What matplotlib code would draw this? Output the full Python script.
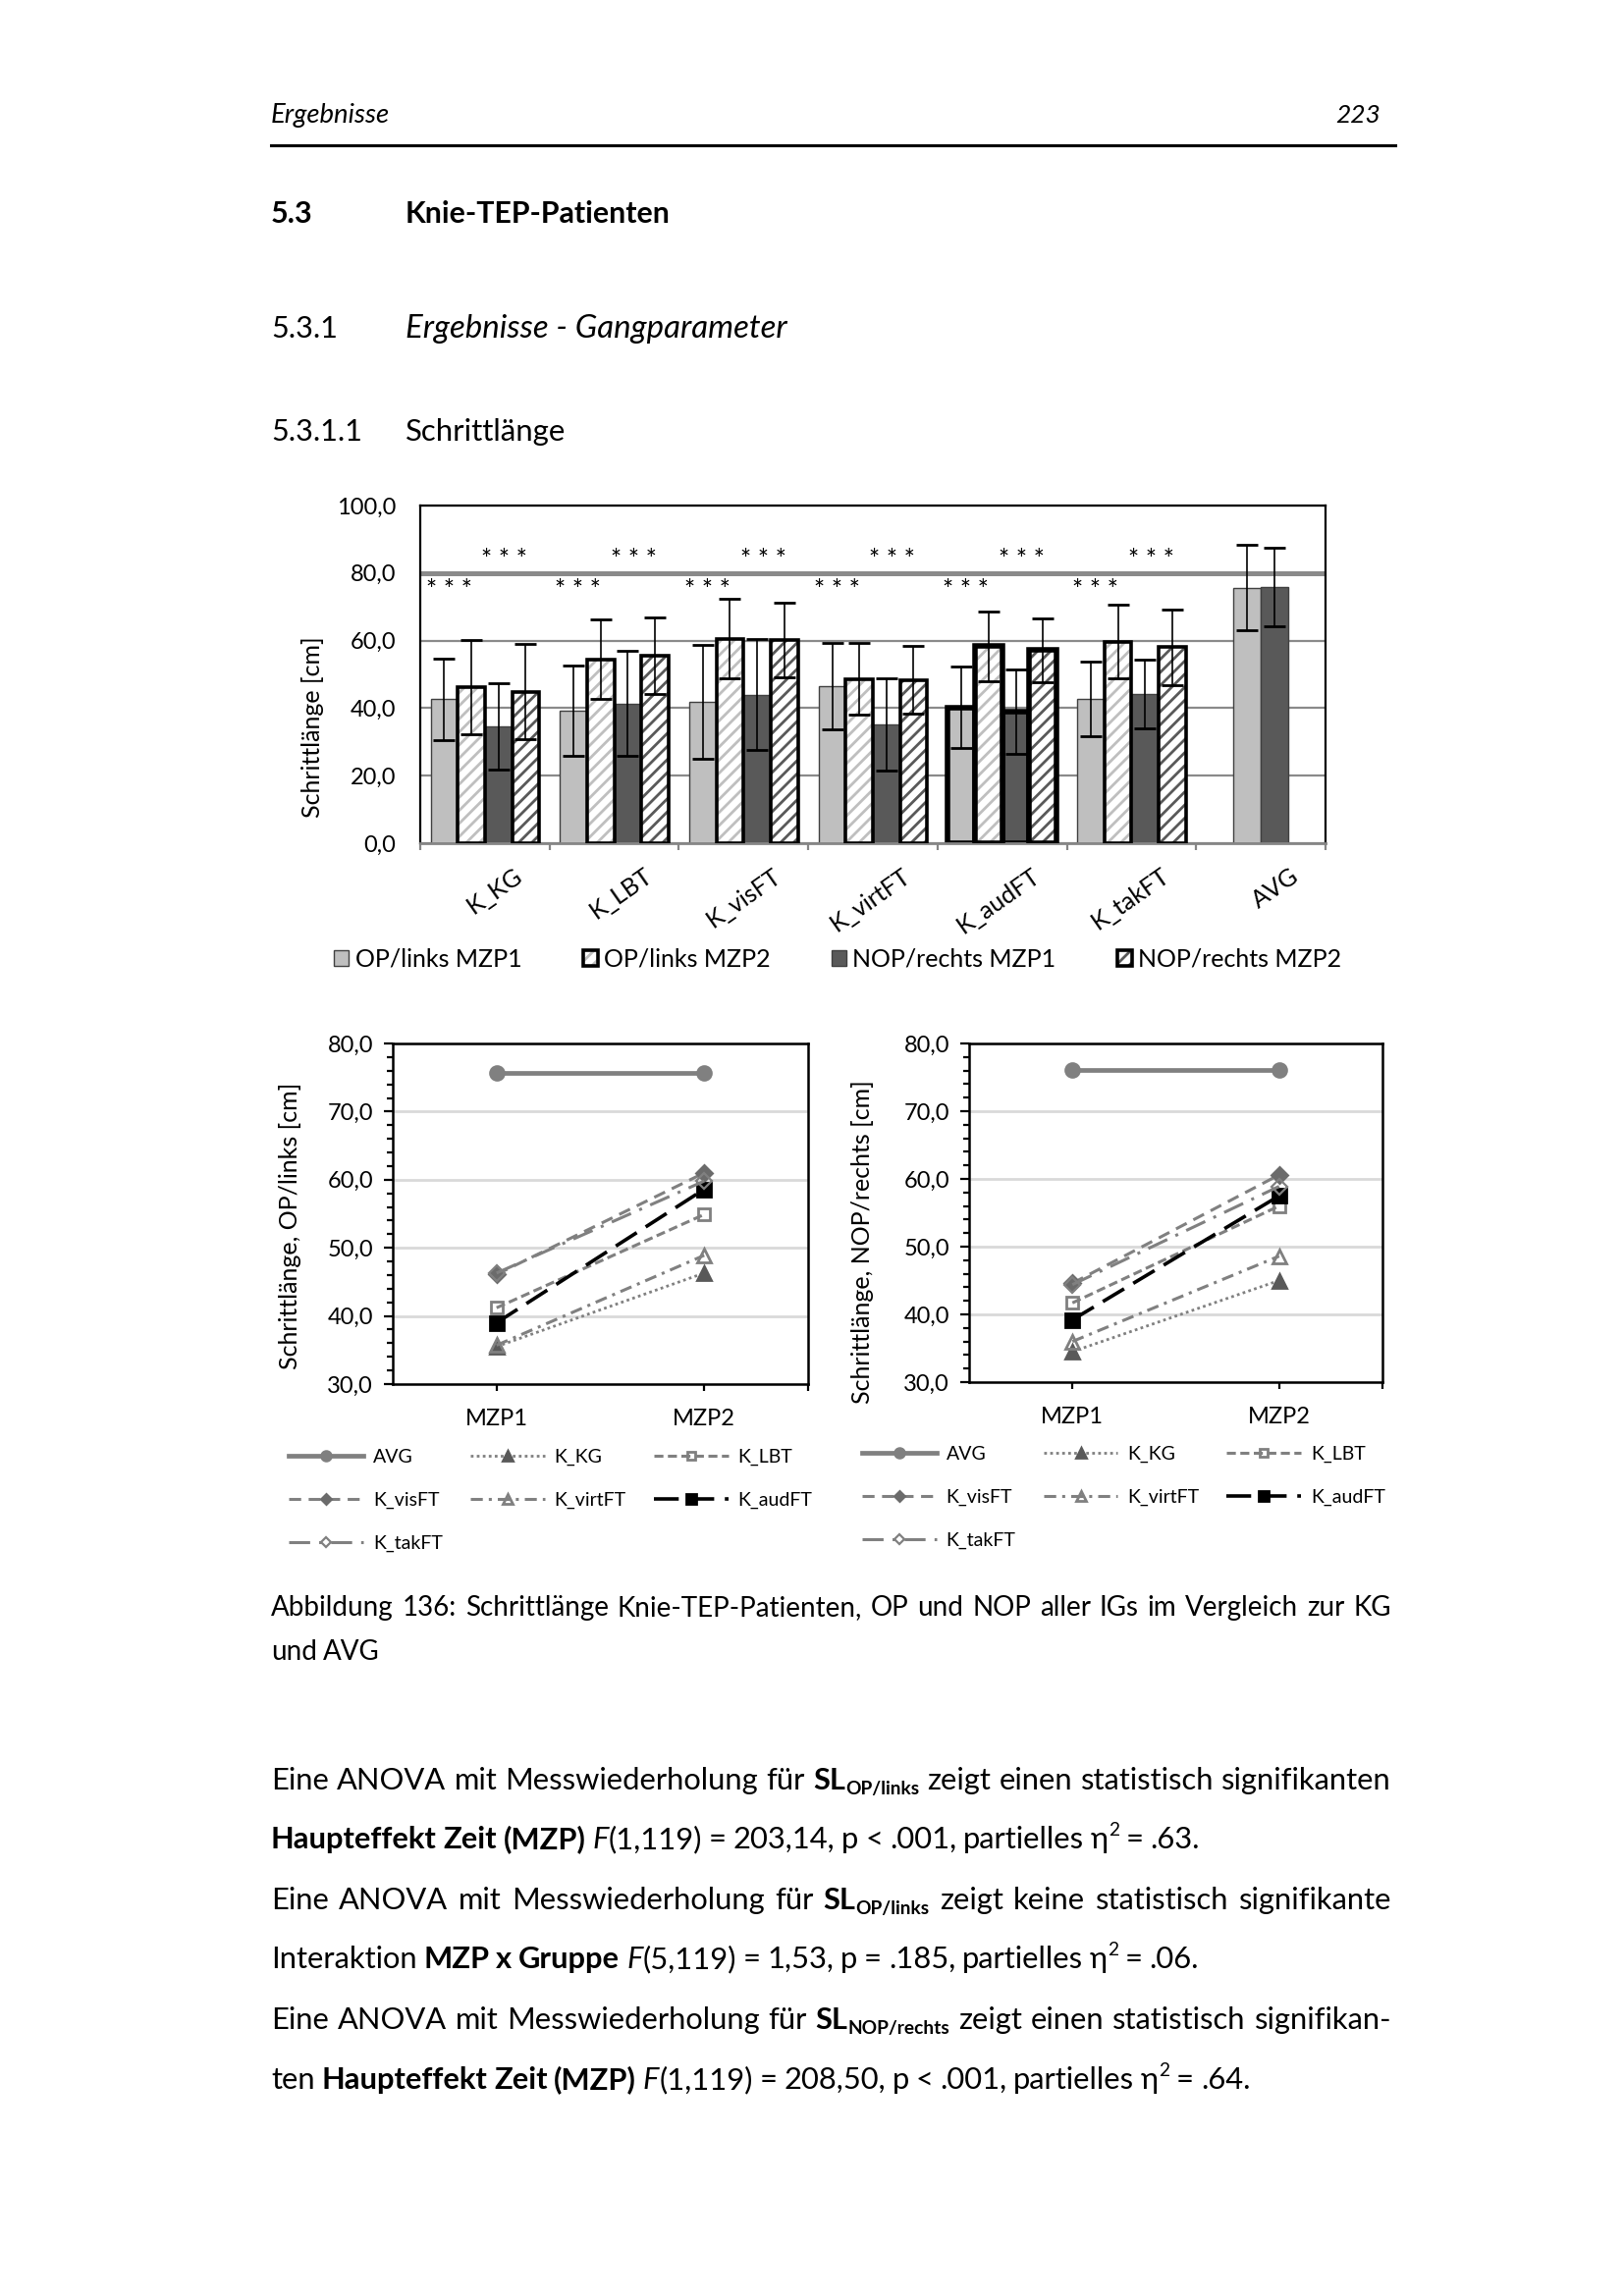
import numpy as np
import matplotlib
matplotlib.use("Agg")
import matplotlib.pyplot as plt
from matplotlib.patches import Patch
from matplotlib.ticker import MultipleLocator, FuncFormatter
from matplotlib.transforms import IdentityTransform, ScaledTranslation

plt.rcParams['font.family'] = ['Lato', 'DejaVu Sans']
plt.rcParams['hatch.linewidth'] = 1.0

W, H, DPI = 1654, 2339, 200

# bar chart data (Schrittlänge, mean and SD)
groups = ['K_KG', 'K_LBT', 'K_visFT', 'K_virtFT', 'K_audFT', 'K_takFT', 'AVG']
op_mzp1 = [42.6, 39.2, 41.8, 46.4, 40.2, 42.7, 75.7]
op_mzp1_sd = [12.0, 13.4, 16.8, 12.8, 12.0, 11.1, 12.7]
op_mzp2 = [46.3, 54.4, 60.5, 48.6, 58.3, 59.7]
op_mzp2_sd = [13.9, 11.8, 11.8, 10.6, 10.3, 10.8]
nop_mzp1 = [34.6, 41.4, 44.0, 35.1, 39.0, 44.2, 75.9]
nop_mzp1_sd = [12.8, 15.5, 16.4, 13.7, 12.5, 10.1, 11.7]
nop_mzp2 = [44.9, 55.6, 60.1, 48.4, 57.2, 58.1]
nop_mzp2_sd = [14.0, 11.4, 11.0, 10.0, 9.4, 11.2]
bar_labels = ['OP/links MZP1', 'OP/links MZP2', 'NOP/rechts MZP1', 'NOP/rechts MZP2']

# line charts data
timepoints = ['MZP1', 'MZP2']
series = ['AVG', 'K_KG', 'K_LBT', 'K_visFT', 'K_virtFT', 'K_audFT', 'K_takFT']
op_line_mzp1 = [75.7, 35.5, 41.2, 46.1, 35.7, 39.0, 46.3]
op_line_mzp2 = [75.7, 46.3, 54.9, 61.0, 48.9, 58.6, 59.8]
nop_line_mzp1 = [76.1, 34.5, 41.7, 44.6, 36.0, 39.2, 44.4]
nop_line_mzp2 = [76.1, 45.0, 56.0, 60.6, 48.6, 57.5, 58.9]

styles = {
    'AVG': dict(color='#808080', ls='-', lw=1.7, marker='o', ms=5, mfc='#808080', mec='#808080'),
    'K_KG': dict(color='#808080', ls=(0, (1, 1.2)), lw=1.0, marker='^', ms=5, mfc='#595959', mec='#595959'),
    'K_LBT': dict(color='#808080', ls=(0, (3, 1.5)), lw=1.1, marker='s', ms=4.5, mfc='none', mec='#808080', mew=1),
    'K_visFT': dict(color='#808080', ls=(0, (4, 2.5)), lw=1.1, marker='D', ms=4, mfc='#6b6b6b', mec='#6b6b6b'),
    'K_virtFT': dict(color='#808080', ls=(0, (4, 2, 1, 2)), lw=1.1, marker='^', ms=5, mfc='none', mec='#808080', mew=1),
    'K_audFT': dict(color='black', ls=(0, (7, 3)), lw=1.3, marker='s', ms=5, mfc='black', mec='black'),
    'K_takFT': dict(color='#808080', ls=(0, (7, 3, 1, 3)), lw=1.1, marker='D', ms=4, mfc='none', mec='#808080', mew=0.8),
}

comma = FuncFormatter(lambda v, p: f"{v:.1f}".replace('.', ','))

fig = plt.figure(figsize=(W / DPI, H / DPI), dpi=DPI)
renderer = fig.canvas.get_renderer()


def ax_box(left, top, right, bottom):
    return fig.add_axes([left / W, 1 - bottom / H, (right - left) / W, (bottom - top) / H])


# ---------- bar chart ----------
ax = ax_box(428, 515, 1350, 859)
x = np.arange(len(groups))
n2 = len(op_mzp2)
has2 = x < n2
w = 0.21
thick = [g == 'K_audFT' for g in groups]

pos_op1 = x + np.where(has2, -1.5 * w, -0.5 * w)
pos_nop1 = x + 0.5 * w
pos_op2 = x[:n2] - 0.5 * w
pos_nop2 = x[:n2] + 1.5 * w

lw1 = [2.0 if t else 0.5 for t in thick]
ec1 = ['black' if t else '#404040' for t in thick]
lw2 = [2.0 if t else 1.3 for t in thick[:n2]]

ax.bar(pos_op1, op_mzp1, w, color='#bfbfbf', edgecolor=ec1, linewidth=lw1, zorder=2)
ax.bar(pos_nop1, nop_mzp1, w, color='#595959', edgecolor=ec1, linewidth=lw1, zorder=2)
ax.bar(pos_op2, op_mzp2, w, color='white', edgecolor='#bfbfbf', hatch='/////', linewidth=0, zorder=2)
ax.bar(pos_op2, op_mzp2, w, fill=False, edgecolor='black', linewidth=lw2, zorder=3)
ax.bar(pos_nop2, nop_mzp2, w, color='white', edgecolor='#595959', hatch='/////', linewidth=0, zorder=2)
ax.bar(pos_nop2, nop_mzp2, w, fill=False, edgecolor='black', linewidth=lw2, zorder=3)

for p, v, e in [(pos_op1, op_mzp1, op_mzp1_sd), (pos_op2, op_mzp2, op_mzp2_sd),
                (pos_nop1, nop_mzp1, nop_mzp1_sd), (pos_nop2, nop_mzp2, nop_mzp2_sd)]:
    ax.errorbar(p, v, yerr=e, fmt='none', ecolor='black', elinewidth=0.6,
                capsize=4, capthick=1.0, zorder=4)

# significance marks
for i in range(n2):
    ax.text(x[i] + 0.15, 83.6, '* * *', ha='center', va='center', fontsize=9.5)
    ax.text(x[i] - 0.28, 74.5, '* * *', ha='center', va='center', fontsize=9.5)

ax.set_xlim(-0.5, len(groups) - 0.5)
ax.set_ylim(0, 100)
ax.yaxis.set_major_locator(MultipleLocator(20))
ax.yaxis.set_major_formatter(comma)
ax.grid(axis='y', color='#8a8a8a', lw=0.8)
ax.set_axisbelow(True)
ax.axhline(80, color='#8a8a8a', lw=1.8, zorder=1)
ax.tick_params(axis='y', length=0, pad=9, labelsize=8.5)
ax.set_xticks(np.arange(-0.5, len(groups)), [''] * (len(groups) + 1))
ax.set_xticks(x, groups, minor=True)
ax.tick_params(axis='x', which='major', length=2.6, width=0.8, color='#868686', direction='out')
ax.tick_params(axis='x', which='minor', length=0, pad=11, labelsize=9)
for lbl in ax.get_xticklabels(minor=True):
    lbl.set_rotation(35)
    lbl.set_ha('right')
    lbl.set_va('center')
    lbl.set_rotation_mode('anchor')
    lbl.set_transform(lbl.get_transform() + ScaledTranslation(0.18, 0, fig.dpi_scale_trans))
for s in ['left', 'top', 'right']:
    ax.spines[s].set_color('black')
    ax.spines[s].set_linewidth(0.8)
ax.spines['bottom'].set_color('#868686')
ax.spines['bottom'].set_linewidth(1.0)
ax.set_ylabel('Schrittlänge [cm]', fontsize=9)
ax.yaxis.set_label_coords(-0.106, 0.343)

h1 = Patch(facecolor='#bfbfbf', edgecolor='#404040', lw=0.5)
h2 = (Patch(facecolor='white', edgecolor='#bfbfbf', hatch='/////', lw=0), Patch(fill=False, edgecolor='black', lw=1.3))
h3 = Patch(facecolor='#595959', edgecolor='#404040', lw=0.5)
h4 = (Patch(facecolor='white', edgecolor='#595959', hatch='/////', lw=0), Patch(fill=False, edgecolor='black', lw=1.3))
ax.legend([h1, h2, h3, h4], bar_labels, ncol=4, loc='upper left', bbox_to_anchor=(-0.095, -0.31),
          frameon=False, handlelength=0.6, handleheight=0.6, handletextpad=0.25, columnspacing=2.5,
          fontsize=9, borderaxespad=0, borderpad=0)


# ---------- line charts ----------
def line_panel(box, mzp1, mzp2, ylabel, label_xy, leg_xy):
    ax = ax_box(*box)
    pos = np.arange(1, len(timepoints) + 1)
    hd = {}
    for name, a, b in zip(series, mzp1, mzp2):
        hd[name], = ax.plot(pos, [a, b], label=name, zorder=3, **styles[name])
    ax.set_xlim(0.5, 2.5)
    ax.set_ylim(30, 80)
    ax.set_xticks(list(pos) + [2.5], timepoints + [''])
    ax.yaxis.set_major_locator(MultipleLocator(10))
    ax.yaxis.set_minor_locator(MultipleLocator(2))
    ax.yaxis.set_major_formatter(comma)
    ax.grid(axis='y', color='#d9d9d9', lw=1.0)
    ax.set_axisbelow(True)
    ax.tick_params(axis='y', which='major', length=3.2, width=0.8, pad=4, labelsize=8.5)
    ax.tick_params(axis='y', which='minor', length=2.2, width=0.8)
    ax.tick_params(axis='x', length=2.6, width=0.8, pad=6.5, labelsize=8.5)
    for s in ax.spines.values():
        s.set_linewidth(0.9)
    ax.set_ylabel(ylabel, fontsize=9)
    ax.yaxis.set_label_coords(*label_xy)
    order = ['AVG', 'K_visFT', 'K_takFT', 'K_KG', 'K_virtFT', 'K_LBT', 'K_audFT']
    ax.legend([hd[k] for k in order], order, ncol=3, loc='upper left', bbox_to_anchor=leg_xy,
              frameon=False, fontsize=7, handlelength=3.9, handletextpad=0.5, columnspacing=1.45,
              labelspacing=1.38, markerscale=0.7, numpoints=1, borderaxespad=0, borderpad=0)
    return ax


line_panel((400, 1063, 823, 1410), op_line_mzp1, op_line_mzp2,
           'Schrittlänge, OP/links [cm]', (-0.22, 0.464), (-0.25, -0.19))
line_panel((987, 1063, 1408, 1408), nop_line_mzp1, nop_line_mzp2,
           'Schrittlänge, NOP/rechts [cm]', (-0.23, 0.414), (-0.259, -0.188))


# ---------- page text ----------
def kw_for(kind, size):
    kw = dict(fontsize=size, color='black')
    if 'b' in kind:
        kw['fontweight'] = 'bold'
    if 'i' in kind:
        kw['fontstyle'] = 'italic'
    if 'sub' in kind or 'sup' in kind:
        kw['fontsize'] = size * 0.62
    return kw


def shift_for(kind, size):
    px = size * DPI / 72
    if 'sub' in kind:
        return -0.16 * px
    if 'sup' in kind:
        return 0.42 * px
    return 0


def split_words(segments):
    words = [[]]
    for text, kind in segments:
        parts = text.split(' ')
        for i, p in enumerate(parts):
            if i > 0:
                words.append([])
            if p:
                words[-1].append((p, kind))
    return [wd for wd in words if wd]


def put_line(base, segments, size, justify=False, x0=276, x1=1417):
    items = []
    for wd in split_words(segments):
        arts = []
        for txt, kind in wd:
            t = fig.text(0, 0, txt, transform=IdentityTransform(), ha='left', va='baseline', **kw_for(kind, size))
            arts.append((t, t.get_window_extent(renderer).width, kind))
        items.append(arts)
    widths = [sum(a[1] for a in arts) for arts in items]
    gap = size * DPI / 72 * 0.22
    if justify and len(items) > 1:
        gap = (x1 - x0 - sum(widths)) / (len(items) - 1)
    xx = x0
    for arts, wdt in zip(items, widths):
        for t, tw, kind in arts:
            t.set_position((xx, H - base + shift_for(kind, size)))
            xx += tw
        xx += gap


# header
fig.text(276 / W, 1 - 125 / H, 'Ergebnisse', fontsize=9.9, fontstyle='italic', va='baseline')
fig.text(1406 / W, 1 - 125 / H, '223', fontsize=9.5, fontstyle='italic', va='baseline', ha='right')
fig.add_artist(plt.Line2D([276 / W, 1421 / W], [1 - 148 / H, 1 - 148 / H], color='black', lw=1.1))

fig.text(276 / W, 1 - 227 / H, '5.3', fontsize=11, fontweight='bold', va='baseline')
fig.text(413 / W, 1 - 227 / H, 'Knie-TEP-Patienten', fontsize=10.9, fontweight='bold', va='baseline')
fig.text(276 / W, 1 - 344 / H, '5.3.1', fontsize=11, va='baseline')
fig.text(413 / W, 1 - 344 / H, 'Ergebnisse - Gangparameter', fontsize=11.9, fontstyle='italic', va='baseline')
fig.text(276 / W, 1 - 449 / H, '5.3.1.1', fontsize=11, va='baseline')
fig.text(413 / W, 1 - 449 / H, 'Schrittlänge', fontsize=11.2, va='baseline')

# caption
put_line(1646, [('Abbildung 136: Schrittlänge Knie-TEP-Patienten,  OP und NOP aller IGs im Vergleich zur KG', 'n')],
         10, justify=True)
put_line(1691, [('und AVG', 'n')], 10)

# body
body = 11.1
put_line(1823, [('Eine ANOVA mit Messwiederholung für ', 'n'), ('SL', 'b'), ('OP/links', 'bsub'),
                (' zeigt einen statistisch signifikanten', 'n')], body, justify=True)
put_line(1883, [('Haupteffekt Zeit (MZP)', 'b'), (' ', 'n'), ('F', 'i'),
                ('(1,119) = 203,14, p < .001, partielles η', 'n'), ('2', 'sup'), (' = .63.', 'n')], body)
put_line(1945, [('Eine ANOVA mit Messwiederholung für ', 'n'), ('SL', 'b'), ('OP/links', 'bsub'),
                (' zeigt keine statistisch signifikante', 'n')], body, justify=True)
put_line(2005, [('Interaktion ', 'n'), ('MZP x Gruppe', 'b'), (' ', 'n'), ('F', 'i'),
                ('(5,119) = 1,53, p = .185, partielles η', 'n'), ('2', 'sup'), (' = .06.', 'n')], body)
put_line(2067, [('Eine ANOVA mit Messwiederholung für ', 'n'), ('SL', 'b'), ('NOP/rechts', 'bsub'),
                (' zeigt einen statistisch signifikan-', 'n')], body, justify=True)
put_line(2128, [('ten ', 'n'), ('Haupteffekt Zeit (MZP)', 'b'), (' ', 'n'), ('F', 'i'),
                ('(1,119) = 208,50, p < .001, partielles η', 'n'), ('2', 'sup'), (' = .64.', 'n')], body)

fig.savefig('out.png', dpi=DPI)
